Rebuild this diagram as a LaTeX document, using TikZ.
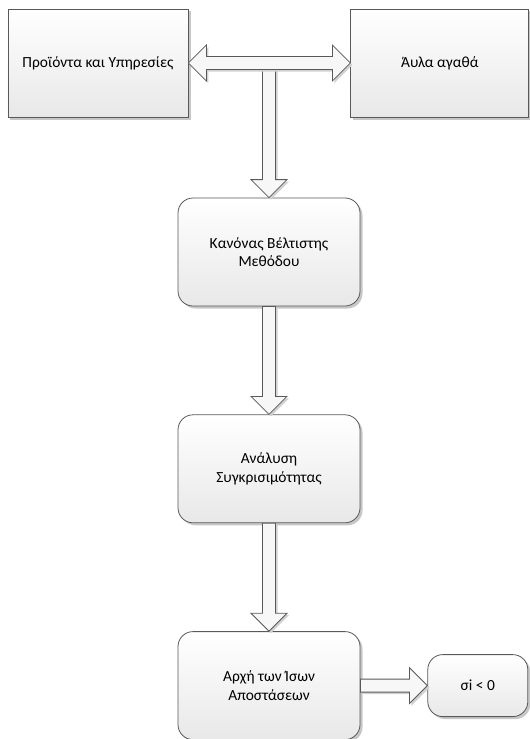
\documentclass[tikz,border=0pt]{standalone}
\usepackage{fontspec}
\setmainfont{Carlito}
\usetikzlibrary{calc,positioning,shadows}
\tikzset{
  box/.style={draw=black!65, line width=0.8bp, top color=white, bottom color=black!9,
    align=center, minimum width=180bp, minimum height=108bp, inner sep=4pt,
    font=\fontsize{15.5}{18.5}\selectfont,
    drop shadow={shadow xshift=2.5bp, shadow yshift=-2.5bp, fill=black!22, opacity=1}},
  roundbox/.style={box, rounded corners=15bp, minimum width=182bp},
  smallbox/.style={roundbox, minimum width=100bp, minimum height=62bp},
  fatarr/.style={draw=black!65, line width=0.8bp, fill=black!3, line join=miter,
    drop shadow={shadow xshift=2bp, shadow yshift=-2bp, fill=black!18, opacity=1}}
}
% hollow block arrow, shaft 13bp, head 36bp wide and 18bp long
\newcommand\fatarrow[2]{%
  \coordinate (fa-h) at ($(#2)!18bp!(#1)$);
  \path[fatarr] ($(#1)!6.5bp!90:(#2)$) -- ($(fa-h)!6.5bp!-90:(#1)$)
    -- ($(fa-h)!18bp!-90:(#1)$) -- (#2) -- ($(fa-h)!18bp!90:(#1)$)
    -- ($(fa-h)!6.5bp!90:(#1)$) -- ($(#1)!6.5bp!-90:(#2)$) -- cycle;
}
% same, with a head at both ends
\newcommand\fatdarrow[2]{%
  \coordinate (fa-a) at ($(#1)!18bp!(#2)$);
  \coordinate (fa-b) at ($(#2)!18bp!(#1)$);
  \path[fatarr] (#1) -- ($(fa-a)!18bp!90:(#2)$) -- ($(fa-a)!6.5bp!90:(#2)$)
    -- ($(fa-b)!6.5bp!-90:(#1)$) -- ($(fa-b)!18bp!-90:(#1)$) -- (#2)
    -- ($(fa-b)!18bp!90:(#1)$) -- ($(fa-b)!6.5bp!90:(#1)$)
    -- ($(fa-a)!6.5bp!-90:(#2)$) -- ($(fa-a)!18bp!-90:(#2)$) -- cycle;
}

\begin{document}
\begin{tikzpicture}[x=1bp, y=-1bp]
  \useasboundingbox (0,0) rectangle (530,739);

  \node[box] (prod) at (98,63) {Προϊόντα και Υπηρεσίες};
  \node[box, right=162bp of prod, minimum width=178bp] (avla) {Άυλα αγαθά};

  \node[roundbox] (kanonas) at (269,252) {Κανόνας Βέλτιστης\\Μεθόδου};
  \node[roundbox, below=108bp of kanonas] (analysi) {Ανάλυση\\Συγκρισιμότητας};
  \node[roundbox, below=108bp of analysi] (archi) {Αρχή των Ίσων\\Αποστάσεων};
  \node[smallbox, right=67bp of archi] (sigma) {σi < 0};

  \coordinate (mid) at ($(prod.east)!0.5!(avla.west)$);
  \coordinate (top) at (kanonas.north |- mid);
  \fatarrow{top}{kanonas.north}
  \fatdarrow{prod.east}{avla.west}
  \fatarrow{kanonas.south}{analysi.north}
  \fatarrow{analysi.south}{archi.north}
  \fatarrow{archi.east}{sigma.west}
\end{tikzpicture}
\end{document}
